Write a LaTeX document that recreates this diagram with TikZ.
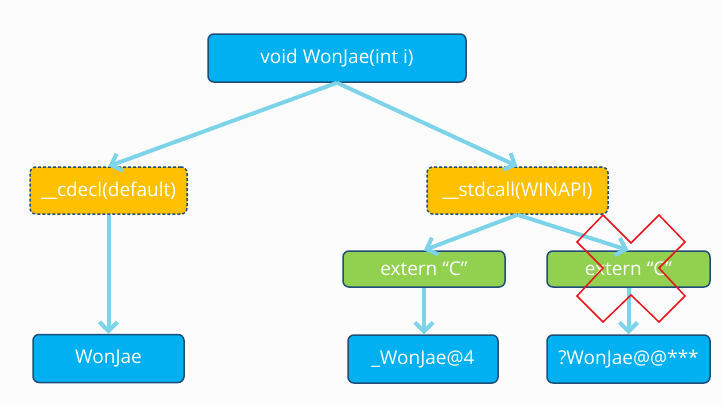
\documentclass[tikz,border=0pt]{standalone}
\usepackage{fontspec}
\setmainfont{Open Sans}
\usetikzlibrary{arrows.meta}
\definecolor{boxblue}{HTML}{00B0F0}
\definecolor{boxorange}{HTML}{FFC000}
\definecolor{boxgreen}{HTML}{92D050}
\definecolor{edgenavy}{HTML}{1F4E79}
\definecolor{arrowcyan}{HTML}{7DD3E8}
\definecolor{crossred}{HTML}{E8141B}
\definecolor{bgcol}{HTML}{FCFCFD}
\begin{document}
\begin{tikzpicture}[x=1pt,y=-1pt,
  basebox/.style={draw=edgenavy,line width=1.5pt,rounded corners=6pt,text=white,
    font=\fontsize{19}{21}\selectfont,inner sep=0pt},
  bluebox/.style={basebox,fill=boxblue,minimum height=48pt},
  orangebox/.style={basebox,fill=boxorange,dashed,dash pattern=on 3pt off 2pt,minimum height=47pt},
  greenbox/.style={basebox,fill=boxgreen,minimum height=36pt},
  conn/.style={draw=arrowcyan,line width=4pt,-{Straight Barb[length=9pt,width=18pt]}}
]
\fill[bgcol] (0,0) rectangle (722,405);
\useasboundingbox (0,0) rectangle (722,405);

\node[bluebox,minimum width=258pt] (top) at (337,58) {void WonJae(int i)};
\node[orangebox,minimum width=157pt] (cdecl) at (108.5,190.5) {\_\kern-1pt\_cdecl(default)};
\node[orangebox,minimum width=181pt] (std) at (517.5,190.5) {\_\kern-1pt\_stdcall(WINAPI)};
\node[greenbox,minimum width=162pt] (extL) at (424,269) {extern “C”};
\node[greenbox,minimum width=163pt] (extR) at (628.5,269) {extern “C”};
\node[bluebox,minimum width=151pt] (won) at (108.5,358.5) {WonJae};
\node[bluebox,minimum width=150pt] (wonat) at (423,359) {\_WonJae@4};
\node[bluebox,minimum width=163pt] (wonq) at (628.5,359) {?WonJae@@***};

\draw[conn] (top.south) -- (cdecl.north);
\draw[conn] (top.south) -- (std.north);
\draw[conn] (cdecl.south) -- (won.north);
\draw[conn] (std.south) -- (extL.north);
\draw[conn] (std.south) -- (extR.north);
\draw[conn] (extL.south) -- (extL.south |- wonat.north);
\draw[conn] (extR.south) -- (extR.south |- wonq.north);

\draw[crossred,line width=1.5pt,line join=miter]
  (603,215) -- (631,243) -- (659,215) -- (685,242) -- (659,268) -- (685,296)
  -- (659,322) -- (631,295) -- (603,322) -- (577,296) -- (603,268) -- (577,242) -- cycle;
\end{tikzpicture}
\end{document}
